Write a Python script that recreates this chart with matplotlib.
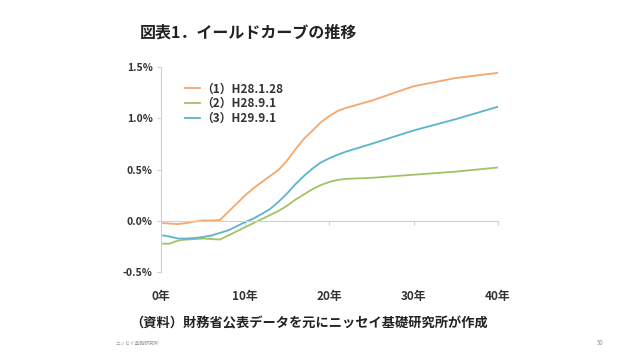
import matplotlib
matplotlib.use('Agg')
import matplotlib.pyplot as plt
from matplotlib.ticker import FuncFormatter

plt.rcParams['font.family'] = ['Noto Sans CJK JP', 'DejaVu Sans']

# 年限（年）
years = [0.25, 1, 2, 3, 4, 5, 6, 7, 8, 9, 10, 11, 12, 13, 14, 15, 16, 17, 18, 19, 20, 21, 22,
         25, 30, 35, 40]
# 利回り（%）
yield_h28_1_28 = [-0.02, -0.025, -0.03, -0.02, -0.005, 0.005, 0.005, 0.01, 0.09, 0.17, 0.25,
                  0.32, 0.38, 0.44, 0.50, 0.59, 0.70, 0.80, 0.88, 0.96, 1.02, 1.07, 1.10,
                  1.17, 1.31, 1.39, 1.44]
yield_h28_9_1 = [-0.22, -0.22, -0.19, -0.18, -0.175, -0.17, -0.175, -0.18, -0.14, -0.10, -0.06,
                 -0.02, 0.02, 0.06, 0.10, 0.15, 0.21, 0.26, 0.31, 0.35, 0.38, 0.40, 0.41,
                 0.42, 0.45, 0.48, 0.52]
yield_h29_9_1 = [-0.14, -0.15, -0.17, -0.17, -0.165, -0.155, -0.14, -0.115, -0.09, -0.05, -0.01,
                 0.025, 0.07, 0.12, 0.19, 0.27, 0.36, 0.44, 0.51, 0.57, 0.61, 0.645, 0.675,
                 0.75, 0.88, 0.99, 1.11]
labels = ['（1）H28.1.28', '（2）H28.9.1', '（3）H29.9.1']
colors = ['#F5A66A', '#A3C266', '#5CB4CC']

x_ticks = [0, 10, 20, 30, 40]
y_ticks = [-0.5, 0.0, 0.5, 1.0, 1.5]

fig = plt.figure(figsize=(6.4, 3.6), dpi=100)
ax = fig.add_axes([0.2516, 0.2431, 0.526, 0.5716])

for vals, lab, c in zip([yield_h28_1_28, yield_h28_9_1, yield_h29_9_1], labels, colors):
    ax.plot(years, vals, color=c, lw=1.3, label=lab)

ax.set_xlim(0, 40)
ax.set_ylim(-0.5, 1.5)
ax.set_xticks(x_ticks)
ax.set_yticks(y_ticks)
ax.xaxis.set_major_formatter(FuncFormatter(lambda v, p: '%d年' % v))
ax.yaxis.set_major_formatter(FuncFormatter(lambda v, p: '%.1f%%' % v))

# 横軸は 0% の位置、ラベルは下に
ax.spines['bottom'].set_position(('data', 0))
ax.spines['bottom'].set_color('#d0d0d0')
ax.spines['left'].set_color('#d0d0d0')
ax.spines['top'].set_visible(False)
ax.spines['right'].set_visible(False)
ax.tick_params(axis='x', direction='out', length=3, color='#d0d0d0', pad=47,
               labelsize=8.5, labelcolor='#333333')
ax.tick_params(axis='y', direction='out', length=3, color='#d0d0d0', pad=3,
               labelsize=7.5, labelcolor='#333333')
for t in ax.get_xticklabels() + ax.get_yticklabels():
    t.set_fontweight('bold')

leg = ax.legend(loc='upper left', bbox_to_anchor=(0.04, 0.975), frameon=False,
                handlelength=1.3, handletextpad=0.1, labelspacing=0.15,
                prop={'size': 8.5, 'weight': 'bold'})
for t in leg.get_texts():
    t.set_color('#333333')

fig.text(140 / 640, 1 - 33 / 360, '図表1．イールドカーブの推移', fontsize=11.5, fontweight='bold',
         color='#222222', va='center', ha='left')
fig.text(130 / 640, 1 - 323 / 360, '（資料）財務省公表データを元にニッセイ基礎研究所が作成',
         fontsize=9.5, fontweight='bold', color='#222222', va='center', ha='left')
fig.text(115 / 640, 1 - 343 / 360, 'ニッセイ基礎研究所', fontsize=3.5, color='#999999',
         va='center', ha='left')
fig.text(600 / 640, 1 - 343 / 360, '50', fontsize=4.5, color='#999999', va='center', ha='center')

fig.savefig('out.png', dpi=100)
